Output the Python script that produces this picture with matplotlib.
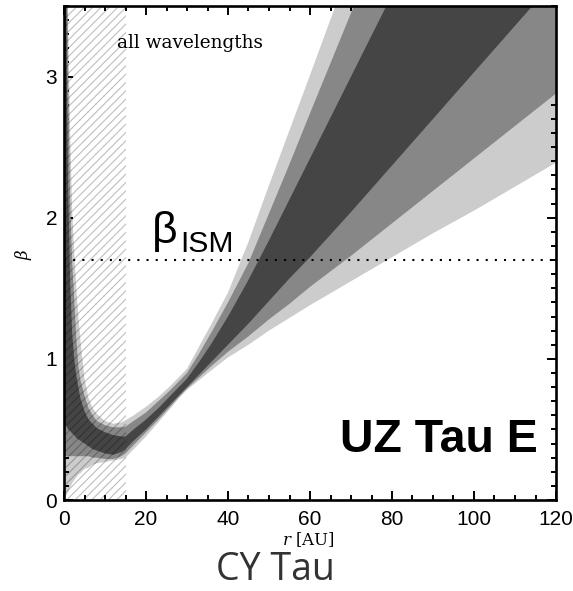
import matplotlib
matplotlib.use("Agg")
import matplotlib.pyplot as plt
from matplotlib.patches import Rectangle
from matplotlib.ticker import MultipleLocator

# Radius grid (AU) shared by all confidence-region boundaries
r_au = [0, 0.7, 1, 1.5, 2, 2.5, 3, 3.5, 4, 5, 6, 7, 8, 10, 12, 14, 15,
        17, 20, 23, 26, 28, 30, 33, 36, 40, 45, 50, 55, 60, 70, 80, 90,
        100, 110, 120]

# Outer (lightest) region: lower / upper beta boundary
light_lo = [0.02, 0.04, 0.06, 0.09, 0.12, 0.14, 0.16, 0.18, 0.19, 0.22, 0.23,
            0.25, 0.26, 0.27, 0.28, 0.29, 0.30,
            0.36, 0.45, 0.55, 0.65, 0.72, 0.78, 0.85, 0.92, 1.01, 1.10, 1.20,
            1.29, 1.38, 1.55, 1.72, 1.89, 2.05, 2.22, 2.39]
light_hi = [9.0, 4.6, 3.4, 2.6, 2.05, 1.75, 1.50, 1.30, 1.13, 0.86, 0.72,
            0.65, 0.61, 0.56, 0.54, 0.55, 0.565,
            0.60, 0.66, 0.73, 0.81, 0.87, 0.93, 1.09, 1.25, 1.47, 1.83, 2.23,
            2.62, 3.01, 3.80, 4.60, 5.40, 6.20, 7.00, 7.80]

# Middle region
mid_lo = [0.32, 0.31, 0.31, 0.31, 0.31, 0.31, 0.31, 0.31, 0.31, 0.31, 0.31,
          0.30, 0.30, 0.29, 0.29, 0.31, 0.33,
          0.39, 0.48, 0.57, 0.665, 0.73, 0.79, 0.87, 0.95, 1.05, 1.16, 1.28,
          1.39, 1.51, 1.73, 1.96, 2.19, 2.42, 2.65, 2.88]
mid_hi = [8.0, 4.0, 3.0, 2.1, 1.68, 1.42, 1.15, 0.95, 0.85, 0.74, 0.65,
          0.60, 0.56, 0.53, 0.515, 0.515, 0.52,
          0.56, 0.62, 0.70, 0.78, 0.84, 0.90, 1.04, 1.19, 1.40, 1.68, 2.03,
          2.38, 2.74, 3.45, 4.16, 4.90, 5.60, 6.30, 7.00]

# Inner (darkest) region
dark_lo = [0.55, 0.52, 0.50, 0.49, 0.47, 0.46, 0.44, 0.43, 0.42, 0.40, 0.38,
           0.36, 0.35, 0.33, 0.32, 0.34, 0.36,
           0.42, 0.50, 0.59, 0.68, 0.74, 0.80, 0.89, 0.98, 1.10, 1.25, 1.41,
           1.57, 1.72, 2.04, 2.37, 2.70, 3.03, 3.36, 3.69]
dark_hi = [6.0, 3.0, 2.2, 1.55, 1.18, 1.00, 0.88, 0.80, 0.72, 0.63, 0.57,
           0.54, 0.51, 0.48, 0.46, 0.45, 0.45,
           0.50, 0.57, 0.65, 0.74, 0.80, 0.86, 0.98, 1.11, 1.30, 1.56, 1.84,
           2.13, 2.42, 3.00, 3.58, 4.16, 4.75, 5.30, 5.90]

beta_ism = 1.7          # interstellar-medium value
r_excluded = 15.0       # inner radius not constrained by all wavelengths

x_ticks = [0, 20, 40, 60, 80, 100, 120]
y_ticks = [0, 1, 2, 3]

W, H = 573, 591
fig = plt.figure(figsize=(W / 100, H / 100), dpi=100)
ax = fig.add_axes([64 / W, 1 - 500 / H, (556 - 64) / W, (500 - 6) / H])

ax.fill_between(r_au, light_lo, light_hi, color="#cccccc", lw=0, zorder=1)
ax.fill_between(r_au, mid_lo, mid_hi, color="#878787", lw=0, zorder=2)
ax.fill_between(r_au, dark_lo, dark_hi, color="#454545", lw=0, zorder=3)

plt.rcParams["hatch.linewidth"] = 0.8
ax.add_patch(Rectangle((0, -0.2), r_excluded, 4.0, fill=False, lw=0,
                       hatch="////", edgecolor=(0, 0, 0, 0.26), zorder=4))

ax.axhline(beta_ism, color="black", lw=1.5, ls=(0, (1, 3.4)), zorder=5)

ax.set_xlim(0, 120)
ax.set_ylim(0, 3.5)
ax.set_xticks(x_ticks)
ax.set_yticks(y_ticks)
ax.xaxis.set_minor_locator(MultipleLocator(5))
ax.yaxis.set_minor_locator(MultipleLocator(0.1))
ax.tick_params(which="both", direction="in", top=True, right=True,
               width=1.4, labelsize=15, zorder=6)
ax.tick_params(which="major", length=6.5)
ax.tick_params(which="minor", length=3.3)
ax.tick_params(axis="x", pad=7)
ax.tick_params(axis="y", pad=5)
for lab in ax.get_xticklabels() + ax.get_yticklabels():
    lab.set_fontfamily("Liberation Sans")
for sp in ax.spines.values():
    sp.set_linewidth(1.9)
    sp.set_zorder(7)

ax.text(12.9, 3.24, "all wavelengths", family="DejaVu Serif", fontsize=13.3,
        va="center", ha="left", zorder=8)
ax.text(21.5, 1.82, "\u03b2", family="Liberation Sans", fontsize=32,
        va="baseline", ha="left", zorder=8)
ax.text(28.3, 1.757, "ISM", family="Liberation Sans", fontsize=21.7,
        va="baseline", ha="left", zorder=8)
ax.text(67.3, 0.34, "UZ Tau E", family="Liberation Sans",
        fontweight="bold", fontsize=33.5, va="baseline", ha="left", zorder=8)

plt.rcParams["mathtext.fontset"] = "dejavuserif"
fig.text(308 / W, 1 - 540 / H, r"$r$ [AU]", family="DejaVu Serif",
         fontsize=12, ha="center", va="center")
fig.text(23 / W, 1 - 254 / H, r"$\beta$", fontsize=12, rotation=90,
         ha="center", va="center")
fig.text(275 / W, 1 - 580 / H, "CY Tau", family="Open Sans",
         fontsize=27, color="#333333", ha="center", va="baseline")

fig.savefig("out.png", dpi=100, facecolor="white")
